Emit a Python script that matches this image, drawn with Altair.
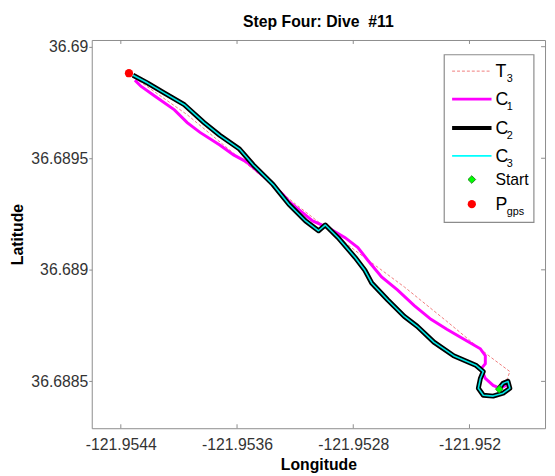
import altair as alt
import pandas as pd

TITLE = "Step Four: Dive\u00a0 #11"
X_TITLE = "Longitude"
Y_TITLE = "Latitude"
X_TICKS = [-121.9544, -121.9536, -121.9528, -121.952]
Y_TICKS = [36.6885, 36.689, 36.6895, 36.69]
X_DOMAIN = [-121.9546, -121.95148]
Y_DOMAIN = [36.68829, 36.69003]

# T3 (dashed)
T3_LON = [-121.954330, -121.953943, -121.953651, -121.953196, -121.952788, -121.952448,
          -121.952156, -121.951993, -121.951857, -121.951722, -121.951749]
T3_LAT = [36.689872, 36.689695, 36.689537, 36.689294, 36.689087, 36.688923,
          36.688769, 36.688681, 36.688610, 36.688544, 36.688496]

# C1 (magenta)
C1_LON = [-121.951735, -121.951749, -121.951789, -121.951837, -121.951891, -121.951919,
          -121.951891, -121.951891, -121.951925, -121.952041, -121.952156, -121.952265,
          -121.952380, -121.952496, -121.952605, -121.952700, -121.952768, -121.952856,
          -121.952971, -121.953080, -121.953243, -121.953284, -121.953399, -121.953535,
          -121.953624, -121.953719, -121.953855, -121.953943, -121.954031, -121.954167,
          -121.954262, -121.954303]
C1_LAT = [36.688504, 36.688482, 36.688469, 36.688482, 36.688513, 36.688557,
          36.688579, 36.688615, 36.688646, 36.688690, 36.688734, 36.688778,
          36.688840, 36.688910, 36.688968, 36.689043, 36.689100, 36.689144,
          36.689188, 36.689219, 36.689307, 36.689338, 36.689409, 36.689484,
          36.689515, 36.689559, 36.689616, 36.689660, 36.689717, 36.689779,
          36.689823, 36.689850]

# C2 (black, thick)
C2_LON = [-121.951796, -121.951769, -121.951735, -121.951722, -121.951769, -121.951837,
          -121.951905, -121.951939, -121.951925, -121.951905, -121.951953, -121.952109,
          -121.952245, -121.952360, -121.952448, -121.952564, -121.952673, -121.952720,
          -121.952788, -121.952904, -121.952992, -121.953039, -121.953128, -121.953243,
          -121.953352, -121.953488, -121.953583, -121.953719, -121.953827, -121.953963,
          -121.954099, -121.954215, -121.954316]
C2_LAT = [36.688469, 36.688491, 36.688500, 36.688469, 36.688447, 36.688434,
          36.688438, 36.688469, 36.688513, 36.688544, 36.688571, 36.688615,
          36.688676, 36.688747, 36.688791, 36.688866, 36.688941, 36.688998,
          36.689056, 36.689144, 36.689201, 36.689175, 36.689219, 36.689294,
          36.689382, 36.689470, 36.689541, 36.689603, 36.689660, 36.689740,
          36.689792, 36.689837, 36.689872]

# C3 (cyan) follows C2
C3_LON = list(C2_LON)
C3_LAT = list(C2_LAT)

START_LON = [-121.951795]
START_LAT = [36.688465]
PGPS_LON = [-121.954344]
PGPS_LAT = [36.689881]

W, H = 460, 394
FONT = "Liberation Sans"
GRAY = "#8c8c8c"
LBL = "#333333"

xs = alt.Scale(domain=X_DOMAIN, nice=False, zero=False)
ys = alt.Scale(domain=Y_DOMAIN, nice=False, zero=False)

lab_expr = "replace(format(datum.value, '.4~f'), '\u2212', '-')"

x_axis = alt.Axis(values=X_TICKS, ticks=False, domain=False, grid=False,
                  labelExpr=lab_expr, labelFont=FONT, labelFontSize=16, labelColor=LBL,
                  labelPadding=9, title=X_TITLE, titleFont=FONT, titleFontSize=16,
                  titleFontWeight="bold", titleColor="#000000", titleBaseline="alphabetic",
                  titleY=42, titleX=W / 2, titleAlign="center")
y_axis = alt.Axis(values=Y_TICKS, ticks=True, tickSize=3, tickColor=GRAY, domain=False,
                  grid=False, labelExpr=lab_expr, labelFont=FONT, labelFontSize=16,
                  labelColor=LBL, labelPadding=1, title=Y_TITLE, titleFont=FONT,
                  titleFontSize=16, titleFontWeight="bold", titleColor="#000000",
                  titleAngle=-90, titleBaseline="alphabetic", titleX=-70, titleY=H / 2,
                  titleAlign="center")

X = alt.X("lon:Q", scale=xs, axis=x_axis)
Y = alt.Y("lat:Q", scale=ys, axis=y_axis)


def track(lon, lat):
    return pd.DataFrame({"lon": lon, "lat": lat, "i": list(range(len(lon)))})


t3 = alt.Chart(track(T3_LON, T3_LAT)).mark_line(
    color="#f07c7c", strokeWidth=1, strokeDash=[3, 2]).encode(x=X, y=Y, order="i:Q")
c1 = alt.Chart(track(C1_LON, C1_LAT)).mark_line(
    color="#ff00ff", strokeWidth=3).encode(x=X, y=Y, order="i:Q")
c2 = alt.Chart(track(C2_LON, C2_LAT)).mark_line(
    color="#000000", strokeWidth=5, strokeJoin="round").encode(x=X, y=Y, order="i:Q")
c3 = alt.Chart(track(C3_LON, C3_LAT)).mark_line(
    color="#00e5e5", strokeWidth=1.6, strokeJoin="round").encode(x=X, y=Y, order="i:Q")
start = alt.Chart(pd.DataFrame({"lon": START_LON, "lat": START_LAT})).mark_point(
    shape="diamond", filled=True, fill="#00ff00", stroke="#1a8a1a", strokeWidth=1,
    size=60, opacity=1).encode(x=X, y=Y)
pgps = alt.Chart(pd.DataFrame({"lon": PGPS_LON, "lat": PGPS_LAT})).mark_circle(
    color="#ff0000", size=70, opacity=1).encode(x=X, y=Y)

xt = pd.DataFrame({"lon": X_TICKS})
yt = pd.DataFrame({"lat": Y_TICKS})
tick_top = alt.Chart(xt).mark_rule(color=GRAY).encode(x=X, y=alt.value(0), y2=alt.value(4))
tick_bot = alt.Chart(xt).mark_rule(color=GRAY).encode(x=X, y=alt.value(H), y2=alt.value(H - 4))
tick_right = alt.Chart(yt).mark_rule(color=GRAY).encode(y=Y, x=alt.value(W), x2=alt.value(W - 4))

ONE = pd.DataFrame({"k": [0]})
LX0, LX1, MX, TX = 365.7, 405.7, 385.7, 409.7
rows = [31.6, 60.0, 89.3, 117.6, 141.6, 166.6]

legend_layers = [
    alt.Chart(ONE).mark_rect(fill="white", stroke=GRAY, strokeWidth=1.2).encode(
        x=alt.value(357.7), x2=alt.value(448.7), y=alt.value(15), y2=alt.value(185)),
    alt.Chart(ONE).mark_rule(color="#f07c7c", strokeWidth=1, strokeDash=[3, 2]).encode(
        x=alt.value(LX0), x2=alt.value(LX1), y=alt.value(rows[0])),
    alt.Chart(ONE).mark_rule(color="#ff00ff", strokeWidth=3).encode(
        x=alt.value(LX0), x2=alt.value(LX1), y=alt.value(rows[1])),
    alt.Chart(ONE).mark_rule(color="#000000", strokeWidth=4).encode(
        x=alt.value(LX0), x2=alt.value(LX1), y=alt.value(rows[2])),
    alt.Chart(ONE).mark_rule(color="#00ffff", strokeWidth=2).encode(
        x=alt.value(LX0), x2=alt.value(LX1), y=alt.value(rows[3])),
    alt.Chart(ONE).mark_point(shape="diamond", filled=True, fill="#00ff00", stroke="#1a8a1a",
                              strokeWidth=1, size=60, opacity=1).encode(
        x=alt.value(MX), y=alt.value(rows[4])),
    alt.Chart(ONE).mark_circle(color="#ff0000", size=70, opacity=1).encode(
        x=alt.value(MX), y=alt.value(rows[5])),
]

main_txt = [("T", "3", rows[0]), ("C", "1", rows[1]), ("C", "2", rows[2]),
            ("C", "3", rows[3]), ("P", "gps", rows[5])]
for big, small, ry in main_txt:
    legend_layers.append(alt.Chart(ONE).mark_text(
        align="left", baseline="alphabetic", font=FONT, fontSize=18, color="#000000").encode(
        x=alt.value(TX), y=alt.value(ry + 6), text=alt.value(big)))
    legend_layers.append(alt.Chart(ONE).mark_text(
        align="left", baseline="alphabetic", font=FONT, fontSize=11, color="#000000").encode(
        x=alt.value(TX + 11.5), y=alt.value(ry + 11), text=alt.value(small)))
legend_layers.append(alt.Chart(ONE).mark_text(
    align="left", baseline="alphabetic", font=FONT, fontSize=16, color="#000000").encode(
    x=alt.value(TX), y=alt.value(rows[4] + 6), text=alt.value("Start")))

chart = alt.layer(
    t3, c1, c2, c3, start, pgps, tick_top, tick_bot, tick_right, *legend_layers
).properties(
    width=W, height=H,
    title=alt.Title(TITLE, font=FONT, fontSize=16, fontWeight="bold", color="#000000",
                    anchor="middle", frame="group", baseline="alphabetic", offset=9, dy=13.5),
    autosize=alt.AutoSizeParams(type="none"),
    padding={"left": 85, "top": 29, "right": 2, "bottom": 45},
).configure_view(stroke=GRAY, strokeWidth=1)

chart.save("out.html", embed_options={"renderer": "svg", "actions": False})
